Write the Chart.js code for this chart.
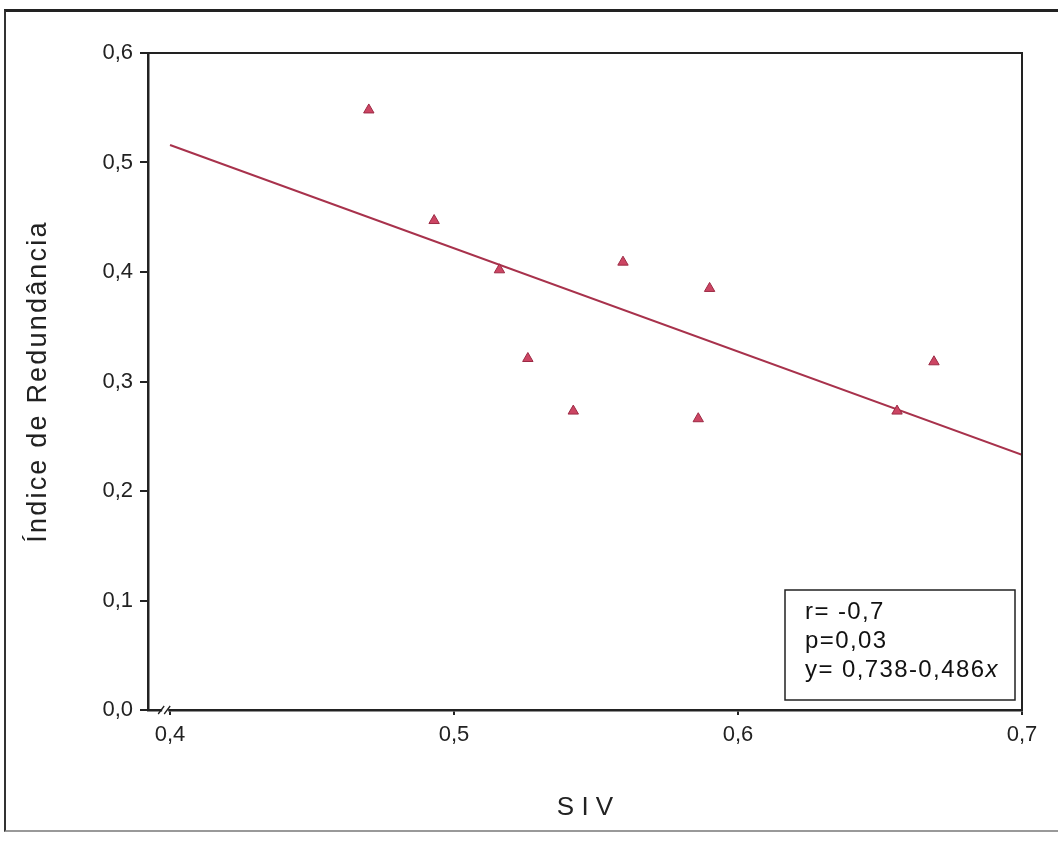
<!DOCTYPE html>
<html>
<head>
<meta charset="utf-8">
<script src="https://cdn.jsdelivr.net/npm/chart.js@4/dist/chart.umd.min.js"></script>
<style>
  html, body { margin: 0; padding: 0; background: #fff; }
  #wrap { position: relative; width: 1060px; height: 844px; }
  #frame { position: absolute; left: 4px; top: 9px; width: 1052px; height: 818px;
           border-left: 2px solid #333; border-top: 3px solid #222; border-bottom: 2px solid #999;
           pointer-events: none; }
</style>
</head>
<body>
<div id="wrap">
  <canvas id="grafica" width="1060" height="844"></canvas>
  <div id="frame"></div>
</div>
<script>
// valores
const siv = [0.470, 0.493, 0.516, 0.526, 0.542, 0.5595, 0.586, 0.590, 0.656, 0.669];
const redundancia = [0.548, 0.447, 0.402, 0.321, 0.273, 0.409, 0.266, 0.385, 0.273, 0.318];
const rectaX = [0.4, 0.7];
const rectaY = [0.516, 0.233];
const ticksX = [0.4, 0.5, 0.6, 0.7];
const ticksY = [0.0, 0.1, 0.2, 0.3, 0.4, 0.5, 0.6];
const estadisticos = ["r= -0,7", "p=0,03", "y= 0,738-0,486"];

const fmt = v => v.toFixed(1).replace('.', ',');
const fuente = "'Liberation Sans', Arial, sans-serif";

const puntos = siv.map((x, i) => ({ x: x, y: redundancia[i] }));
const recta = rectaX.map((x, i) => ({ x: x, y: rectaY[i] }));

// espaciado del titulo vertical, recuadro, corte del eje
const extras = {
  id: 'extras',
  afterLayout(chart) {
    const s = chart.scales.y;
    if (s._espaciado) return;
    const original = s.drawTitle;
    s.drawTitle = function () {
      this.ctx.letterSpacing = '2.2px';
      original.apply(this, arguments);
      this.ctx.letterSpacing = '0px';
    };
    s._espaciado = true;
  },
  afterDraw(chart) {
    const ctx = chart.ctx;
    const a = chart.chartArea;
    const sx = chart.scales.x;
    ctx.save();
    // marco superior y derecho
    ctx.strokeStyle = '#222';
    ctx.lineWidth = 2;
    ctx.beginPath();
    ctx.moveTo(a.left, a.top);
    ctx.lineTo(a.right, a.top);
    ctx.lineTo(a.right, a.bottom);
    ctx.stroke();

    // corte del eje x
    const bx = sx.getPixelForValue(0.3983);
    ctx.strokeStyle = '#fff';
    ctx.lineWidth = 5;
    ctx.beginPath();
    ctx.moveTo(bx - 3, a.bottom);
    ctx.lineTo(bx + 3, a.bottom);
    ctx.stroke();
    ctx.strokeStyle = '#222';
    ctx.lineWidth = 1.3;
    ctx.beginPath();
    ctx.moveTo(bx - 7, a.bottom + 4);
    ctx.lineTo(bx - 1, a.bottom - 4);
    ctx.moveTo(bx - 1, a.bottom + 4);
    ctx.lineTo(bx + 5, a.bottom - 4);
    ctx.stroke();

    // recuadro de estadisticos
    const w = 230, h = 110;
    const x0 = a.right - 237, y0 = a.bottom - 120;
    ctx.lineWidth = 1.5;
    ctx.strokeRect(x0, y0, w, h);
    ctx.fillStyle = '#111';
    ctx.textBaseline = 'middle';
    ctx.letterSpacing = '1.4px';
    estadisticos.forEach((t, i) => {
      ctx.font = "24px " + fuente;
      ctx.fillText(t, x0 + 20, y0 + 22 + i * 29);
      if (i === 2) {
        const tw = ctx.measureText(t).width;
        ctx.font = "italic 24px " + fuente;
        ctx.fillText('x', x0 + 20 + tw, y0 + 22 + i * 29);
      }
    });
    ctx.restore();
  }
};

new Chart(document.querySelector('#grafica'), {
  type: 'scatter',
  data: {
    datasets: [
      {
        label: 'Índice de Redundância',
        data: puntos,
        pointStyle: 'triangle',
        pointRadius: 6,
        backgroundColor: '#cc4563',
        borderColor: '#9c2a44',
        borderWidth: 1
      },
      {
        type: 'line',
        label: 'recta',
        data: recta,
        borderColor: '#a8324c',
        borderWidth: 2,
        pointRadius: 0,
        fill: false
      }
    ]
  },
  plugins: [extras],
  options: {
    responsive: false,
    animation: false,
    layout: { padding: { left: 16, right: 38, top: 53, bottom: 21 } },
    plugins: { legend: { display: false }, tooltip: { enabled: false } },
    scales: {
      x: {
        type: 'linear',
        min: 0.39225,
        max: 0.7,
        afterBuildTicks: s => { s.ticks = ticksX.map(v => ({ value: v })); },
        afterFit: s => { s.height = 113; },
        grid: { drawOnChartArea: false, drawTicks: true, tickLength: 5, color: '#222', lineWidth: 2 },
        border: { display: true, color: '#222', width: 2.5 },
        ticks: { color: '#222', font: { family: fuente, size: 22 }, padding: 7, callback: v => fmt(v), maxRotation: 0 },
        title: { display: true, text: 'S I V', color: '#222', font: { family: fuente, size: 26 }, padding: { top: 30, bottom: 0 } }
      },
      y: {
        type: 'linear',
        min: 0,
        max: 0.6,
        afterBuildTicks: s => { s.ticks = ticksY.map(v => ({ value: v })); },
        afterFit: s => { s.width = 132; },
        grid: { drawOnChartArea: false, drawTicks: true, tickLength: 8, color: '#222', lineWidth: 2 },
        border: { display: true, color: '#222', width: 2.5 },
        ticks: { color: '#222', font: { family: fuente, size: 22 }, padding: 7, callback: v => fmt(v) },
        title: { display: true, text: 'Índice de Redundância', color: '#222', font: { family: fuente, size: 27 }, padding: { top: 6, bottom: 0 } }
      }
    }
  }
});
</script>
</body>
</html>
